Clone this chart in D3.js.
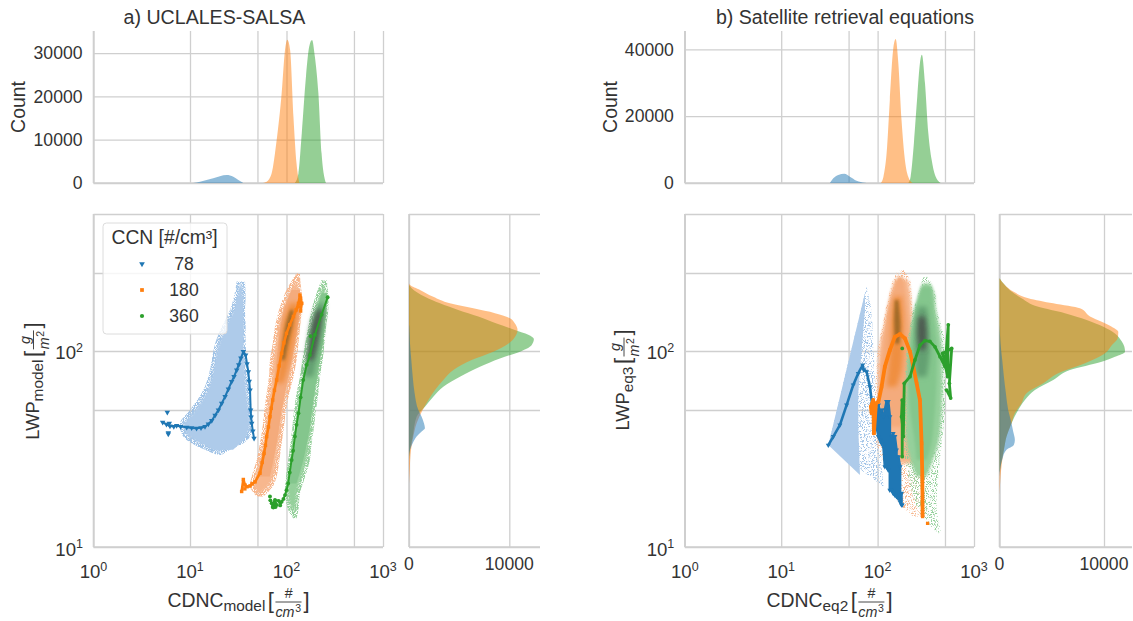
<!DOCTYPE html>
<html><head><meta charset="utf-8">
<script src="https://cdn.jsdelivr.net/npm/d3@7/dist/d3.min.js"></script>
<style>
html,body{margin:0;padding:0;background:#fff}
svg{display:block}
text{font-family:"Liberation Sans",Arial,sans-serif;fill:#333}
</style></head><body>
<svg id="fig" width="1133" height="621"></svg>
<script>
// ---------- tick values and labels ----------
const series = ["78", "180", "360"];
const seriesColors = ["#1f77b4", "#ff7f0e", "#2ca02c"];
const xGrid = [1, 10, 50, 100, 500, 1000];
const xLabelTicks = [1, 10, 100, 1000];
const yGrid = [10, 50, 100, 250, 500];
const yLabelTicks = [10, 100];
const legendTitle = "CCN [#/cm³]";

// ---------- top marginal histograms: [CDNC, count] ----------
const topA78 = [[10.8,0],[12.7,300],[17.4,1080],[24,1850],[28.1,1460],[31.7,690],[35.7,0]];
const topA180 = [[55.3,0],[62.3,300],[70.2,2230],[79.1,9920],[89.1,20700],[96.5,30700],[102,33100],[109,30700],[118,15300],[127,4540],[136,0]];
const topA360 = [[122,0],[133,2230],[144,11460],[159,24500],[172,31500],[184,33000],[197,29100],[214,20700],[231,6840],[257,0]];
const topB78 = [[32,0],[34.7,1400],[39.1,2400],[45.1,2800],[51.6,1900],[60.5,700],[73.9,100],[80,0]];
const topB180 = [[108,0],[115,1900],[124,8900],[134,24900],[145,39900],[154,43100],[164,35900],[177,18900],[192,6900],[208,1900],[231,0]];
const topB360 = [[208,0],[220,1900],[238,11900],[258,25900],[275,35900],[288,38400],[310,29900],[336,14900],[364,6900],[394,2400],[451,0]];

// ---------- right marginal histograms: [LWP, count] ----------
const sideA78 = [[136,0],[133,30],[109,100],[90,230],[74,370],[60.8,560],[50,930],[46.2,1260],[42.8,1490],[40.3,1590],[38.8,1260],[36.6,760],[33.8,370],[31.3,100],[28.9,0]];
const sideA180 = [[221,0],[217,100],[205,1100],[189,2420],[175,4080],[165,6410],[156,8570],[147,10060],[138,10560],[128,10820],[118,10560],[109,9890],[99.2,8400],[90,6240],[80,4420],[71.1,3420],[63.2,2590],[56.2,1930],[50,1360],[42.8,760],[36.6,430],[31.3,200],[24.7,70],[21.1,0]];
const sideA360 = [[217,0],[209,270],[189,1590],[175,3090],[162,4910],[150,6910],[138,8730],[128,10560],[121,11890],[115,12450],[107,12220],[99.2,11060],[91.7,9060],[83.2,7070],[74,5080],[65.8,3420],[58.5,2420],[52,1590],[46.2,760],[36.6,370],[31.3,100],[28,0]];
const sideB78 = [[136,0],[109,100],[90,260],[74,420],[60.8,610],[50,830],[42.8,1150],[38.8,1310],[35.2,1470],[33.1,1370],[31.3,670],[28.3,290],[25.7,100],[22.9,0]];
const sideB180 = [[235,0],[217,510],[201,1310],[186,2750],[175,5140],[165,7700],[150,8660],[141,9780],[133,10740],[125,11370],[116,11310],[107,10740],[97.3,10100],[86.5,8180],[76.9,5620],[68.4,4190],[60.8,2590],[54.1,2110],[48.1,1470],[42.8,1150],[36.6,670],[31.3,420],[26.7,220],[22.9,100],[18.4,0]];
const sideB360 = [[235,0],[217,510],[201,1150],[186,2110],[168,3710],[156,6260],[144,8340],[133,9940],[123,11050],[112,11690],[105,11950],[99.2,12010],[93.5,11050],[88.2,9780],[80,6740],[71.1,5140],[63.2,3390],[56.2,2430],[50,1790],[42.8,1150],[36.6,670],[31.3,420],[26.7,160],[24,0]];

// ---------- scatter clouds as density envelopes: [LWP, CDNC low, CDNC high] ----------
const cloudA78Fringe = [[226,30.5,37.2],[189,28.6,37.7],[162,26,37.2],[133,21.3,37.7],[109,18.2,37.7],[90,16.8,38.7],[74,15.5,40.2],[60.8,13.2,41.9],[50,10,43.6],[42.8,7.88,45.3],[36.6,8.53,41.9],[33.8,10.4,35.7],[31.3,14.3,26],[29.5,18.9,21.3]];
const cloudA78Dense = [[189,30.5,35.7],[162,29.3,35.7],[133,24,36],[109,21.3,35.7],[90,18.9,36],[74,17.4,36],[60.8,15.5,37],[50,12.7,38],[42.8,9.6,39],[36.6,10.8,38],[33.8,13.7,33],[31.3,17.4,28]];
const cloudA180Fringe = [[249,127,138],[221,109,140],[197,96.5,144],[162,83.6,144],[133,76,138],[109,71.9,133],[90,67.4,127],[74,65.9,118],[60.8,62.3,107],[50,58.9,98.8],[41.1,56.6,94.2],[33.8,53.1,89.1],[27.8,49.1,84.3],[22.9,43.6,79.1],[20.3,41.9,71.9],[18.1,49.1,57.5]];
const cloudA180Mid = [[205,113,138],[162,94.2,138],[109,82.3,122],[74,76,104],[50,67.4,89.1],[33.8,59.9,79.1],[22.9,49.1,67.4]];
const cloudA180Dense = [[175,109,133],[138,92.7,127],[109,87.7,118],[83.2,83.6,104],[68.4,79,92.7]];
const cloudA180Core = [[162,109,118],[138,98.8,116],[109,91.2,104],[90,87.7,96.5]];
const cloudA360Fringe = [[230,231,261],[197,205,271],[162,182,271],[133,168,257],[109,156,247],[90,146,237],[74,138,222],[60.8,127,214],[50,120,202],[41.1,115,193],[33.8,110,182],[27.8,104,175],[22.9,98.8,156],[18.8,96.5,138],[15.5,104,133],[14,118,127]];
const cloudA360Mid = [[197,231,265],[133,190,251],[90,166,222],[60.8,144,194],[41.1,127,175],[27.8,115,149],[21.1,104,127]];
const cloudA360Dense = [[175,215,250],[133,178,235],[100,166,215],[74,150,190]];
const cloudA360Core = [[162,205,240],[133,182,226],[109,172,209],[90,162,190]];

// the right-hand blue cloud is a straight-edged wedge: [CDNC, LWP] corners
const wedgeB78Fringe = [[30.8,33.1],[76.9,213],[86.6,162],[90.2,109],[93.8,74],[102,41.1],[115,20.3]];
const wedgeB78Dense = [[30.8,33.1],[73.9,197],[73.9,162],[68.2,101],[63,60.8],[63,41.1],[65.6,23.3]];
const cloudB180Fringe = [[259,164,185],[230,145,217],[189,129,225],[133,112,244],[109,102,264],[74,96.1,275],[50,93.8,286],[33.8,97.6,286],[22.9,134,298],[17.4,157,298],[14.3,235,323]];
const cloudB180Solid = [[230,151,208],[189,134,220],[133,116,231],[109,106,244],[74,102,254],[50,106,264],[33.8,134,264],[26.7,171,264]];
const cloudB180Mid = [[239,161,185],[162,129,203],[109,115,217],[74,106,208],[50,110,185],[41.1,140,177]];
const cloudB180Dense = [[189,148,177],[150,140,185],[109,136,185],[80,129,177],[65.8,124,157]];
const cloudB180Core = [[182,151,164],[138,148,173],[109,152,168]];
const cloudB360Fringe = [[239,298,336],[197,264,394],[162,235,410],[133,217,462],[109,203,500],[74,192,500],[50,185,500],[33.8,185,462],[22.9,208,426],[15.5,264,410],[11.7,426,462]];
const cloudB360Solid = [[221,291,349],[197,271,386],[162,244,402],[133,225,435],[109,212,462],[74,200,470],[50,197,462],[33.8,200,426],[26.7,225,363],[22.9,254,323]];
const cloudB360Mid = [[213,286,363],[162,244,378],[109,220,410],[74,208,410],[50,217,394],[33.8,244,363],[27.8,254,323]];
const cloudB360Dense = [[168,264,323],[133,250,336],[101,244,349],[74,254,323]];
const cloudB360Core = [[150,264,310],[123,258,323],[101,271,310]];

// ---------- binned mean lines: [CDNC, LWP] ----------
const lineA78 = [[5.21,43.3],[5.7,42.2],[6.2,41.4],[6.8,41.2],[7.27,41.6],[8,41.2],[9.24,40.8],[10.4,40.5],[11.7,40.3],[13,40.6],[14.3,41.1],[15.5,42.4],[16.8,44.1],[18.2,47],[19.7,50],[21.3,54],[23.1,58.5],[25,64],[27,69.8],[28.6,74],[30.5,80],[32,85],[33.7,92],[35.7,99.2],[37.7,95.4],[39,86],[40.2,78.4],[41.1,70],[41.9,63.2],[42.5,50],[43,46],[43.6,42.8],[44.8,39],[46.1,35.8]];
const extraA78 = [[5.82,48.7],[5.96,37.7],[6.1,42.8],[5.96,38.2]];
const lineA180 = [[34.3,19.2],[35.7,22.1],[37.2,20.7],[39,20.3],[41.9,20.5],[44,21],[47.2,21.5],[53.1,23.8],[56,27],[58.5,30],[60.5,33],[62.3,36.6],[65,41],[67.4,46.2],[69.5,51],[71.9,56.2],[75,63],[79.1,71.1],[84,84],[89.1,97.3],[94,110],[100,123],[108,136],[118,150],[126,162],[133,175],[138,193],[144,175],[140,160]];
const extraA180 = [[140,186],[134,168],[37,19.8]];
const lineA360 = [[68,17.3],[70.2,16.7],[72,16],[73,15.9],[75,17],[77,16],[79.1,16.4],[76,17.4],[83,17.2],[86,16.3],[89.1,17],[93,17.6],[96.5,18.4],[100,19.5],[104,21.1],[108,24],[113,27.8],[117,31],[122,36.6],[127,42],[133,48.1],[140,58],[149,71.1],[162,85],[175,95.4],[197,121],[231,153],[267,188]];
const extraA360 = [[67.4,18.1],[178,119]];

const lineB78 = [[30.8,33.1],[34.7,36.6],[40.6,41.9],[47.7,53],[55.9,67.1],[63,76.9],[69.9,84.8],[72,80],[76.9,78.4],[83.2,65.8],[88,53],[91.6,46.2],[97.6,50],[97.6,41.1],[102,36.6],[102,53],[106,48.1],[106,35.2],[110,33.8],[110,50],[115,46.2],[115,32.5],[119,25.7],[119,50],[124,55.2],[124,25.7],[129,24.7],[129,55.2],[134,46.2],[134,19.5],[140,19.5],[140,36.6],[145,38],[145,18.8],[151,18.4],[151,36.6],[157,31.3],[157,18.1],[164,17.7],[164,28.9],[171,25.7],[171,17],[177,18.8],[177,16.4],[180,16.4]];
const lineB180 = [[86.6,48.1],[85.3,52],[90.2,56.2],[91.6,38],[96.1,54.1],[102,55],[110,65.8],[119,83.2],[134,101],[151,118],[171,122],[192,116],[217,99.2],[235,83.2],[254,68.4],[275,56.2],[286,33.8],[291,22.9],[293,14.3]];
const extraB180 = [[330,13.2]];
const lineB360 = [[180,28.9],[180,56.2],[177,46.2],[185,36.6],[189,68.4],[217,74],[244,90],[275,107],[310,113],[349,112],[394,105],[444,93.5],[500,83.2],[541,136],[533,74],[473,97.3],[587,103],[555,68.4],[573,57.5],[520,63.2]];
const extraB360 = [[180,103]];

// ---------- layout constants ----------
const svg = d3.select("#fig");
const INK = "#333", GRID = "#cfcfcf";
const TICK = 17.6;
const defs = svg.append("defs");
function speckFilter(id, offset) {
  const f = defs.append("filter").attr("id", id).attr("x", "-5%").attr("y", "-5%").attr("width", "110%").attr("height", "110%");
  f.append("feTurbulence").attr("type", "fractalNoise").attr("baseFrequency", 1.1).attr("numOctaves", 1).attr("seed", 4).attr("result", "n");
  f.append("feColorMatrix").attr("in", "n").attr("type", "matrix").attr("values", `0 0 0 0 0  0 0 0 0 0  0 0 0 0 0  0 0 0 9 ${offset}`).attr("result", "m");
  f.append("feComposite").attr("in", "SourceGraphic").attr("in2", "m").attr("operator", "in");
}
speckFilter("speck", -3.6);
speckFilter("speck2", -4.6);
const inner = defs.append("filter").attr("id", "inner").attr("x", "-5%").attr("y", "-5%").attr("width", "110%").attr("height", "110%");
inner.append("feMorphology").attr("operator", "erode").attr("radius", 2.5).attr("result", "e");
inner.append("feGaussianBlur").attr("in", "e").attr("stdDeviation", 1);
[0.7, 1.5, 2.6].forEach((s, i) => {
  defs.append("filter").attr("id", "blur" + i).attr("x", "-40%").attr("y", "-40%").attr("width", "180%").attr("height", "180%")
    .append("feGaussianBlur").attr("stdDeviation", s);
});

const AREA = {
  a: { x0: 93.5, x1: 383, sideX0: 409, sideX1: 540, sideMax: 13060, topMax: 35100, topTicks: [0, 10000, 20000, 30000], countX: 18 },
  b: { x0: 684.8, x1: 974, sideX0: 999.5, sideX1: 1132, sideMax: 12680, topMax: 45500, topTicks: [0, 20000, 40000], countX: 610 }
};
const YT = 214, YB = 547, TT = 31, TB = 183;

function styleAxis(g) {
  g.select(".domain").remove();
  g.selectAll("line").attr("stroke", GRID).attr("stroke-width", 1.3);
}

function grid(g, x, y, xVals, yVals, w0, w1, h0, h1) {
  const xa = g.append("g").attr("transform", `translate(0,${h1})`)
    .call(d3.axisBottom(x).tickValues(xVals).tickSize(h0 - h1).tickFormat(""));
  styleAxis(xa);
  const ya = g.append("g").attr("transform", `translate(${w0},0)`)
    .call(d3.axisLeft(y).tickValues(yVals).tickSize(w0 - w1).tickFormat(""));
  styleAxis(ya);
  g.append("line").attr("x1", w0).attr("x2", w0).attr("y1", h0).attr("y2", h1).attr("stroke", GRID).attr("stroke-width", 1.6);
  g.append("line").attr("x1", w0).attr("x2", w1).attr("y1", h1).attr("y2", h1).attr("stroke", GRID).attr("stroke-width", 1.6);
}

function powerLabel(g, px, py, anchor, v) {
  const t = g.append("text").attr("x", px).attr("y", py).attr("text-anchor", anchor).attr("font-size", TICK + 1);
  t.append("tspan").text("10");
  t.append("tspan").attr("font-size", 12.5).attr("dy", -7.5).text(String(Math.round(Math.log10(v))));
}

function mathLabel(x, y, rot, main, sub, num, den, sup, mainSize, subSize) {
  const outer = svg.append("g").attr("transform", `translate(${x},${y}) rotate(${rot})`);
  const g = outer.append("g");
  let cx = 0;
  const put = (s, size, dy, style) => g.append("text").attr("x", cx).attr("y", dy).attr("font-size", size).attr("font-style", style || "normal").text(s);
  let t = put(main, mainSize, 0); cx += t.node().getComputedTextLength();
  t = put(sub, subSize, 4); cx += t.node().getComputedTextLength() + 2.5;
  t = put("[", 22, 1); cx += t.node().getComputedTextLength() + 1.5;
  const fs = 14.3;
  const probe = g.append("text").attr("font-size", fs).attr("font-style", "italic").text(den);
  const dw = probe.node().getComputedTextLength(); probe.remove();
  const supW = 7, fw = dw + supW;
  g.append("line").attr("x1", cx).attr("x2", cx + fw).attr("y1", -5).attr("y2", -5).attr("stroke", INK).attr("stroke-width", 0.9);
  g.append("text").attr("x", cx + fw / 2).attr("y", -9).attr("font-size", fs).attr("text-anchor", "middle").attr("font-style", "italic").text(num);
  g.append("text").attr("x", cx).attr("y", 10).attr("font-size", fs).attr("font-style", "italic").text(den);
  g.append("text").attr("x", cx + dw + 0.7).attr("y", 5).attr("font-size", 10.5).text(sup);
  cx += fw + 2;
  t = put("]", 22, 1); cx += t.node().getComputedTextLength();
  g.attr("transform", `translate(${-cx / 2},0)`);
}

function band(g, rows, x, y, fill, opacity, filter) {
  const a = d3.area().x0(d => x(d[1])).x1(d => x(d[2])).y(d => y(d[0])).curve(d3.curveCatmullRom.alpha(0.5));
  const p = g.append("path").attr("d", a(rows)).attr("fill", fill).attr("fill-opacity", opacity);
  if (filter) p.attr("filter", `url(#${filter})`);
}

function wedge(g, corners, x, y, fill, filter) {
  const l = d3.line().x(d => x(d[0])).y(d => y(d[1])).curve(d3.curveLinearClosed);
  const p = g.append("path").attr("d", l(corners)).attr("fill", fill);
  if (filter) p.attr("filter", `url(#${filter})`);
}

function meanLine(g, pts, extra, x, y, color, idx, w, ms) {
  const line = d3.line().x(d => x(d[0])).y(d => y(d[1]));
  g.append("path").attr("d", line(pts)).attr("fill", "none").attr("stroke", color).attr("stroke-width", w).attr("stroke-linejoin", "round");
  const sym = [d3.symbolTriangle, d3.symbolSquare, d3.symbolCircle][idx];
  const gen = d3.symbol().type(sym).size(ms);
  g.selectAll(null).data(pts.concat(extra)).join("path")
    .attr("d", gen).attr("fill", color)
    .attr("transform", d => `translate(${x(d[0])},${y(d[1])})${idx === 0 ? " rotate(180)" : ""}`);
}

function panel(cfg, P) {
  const x = d3.scaleLog().domain([1, 1000]).range([P.x0, P.x1]);
  const y = d3.scaleLog().domain([10, 500]).range([YB, YT]);
  const yTop = d3.scaleLinear().domain([0, P.topMax]).range([TB, TT]);
  const xSide = d3.scaleLinear().domain([0, P.sideMax]).range([P.sideX0, P.sideX1]);

  // --- top marginal
  const gt = svg.append("g");
  grid(gt, x, yTop, xGrid, P.topTicks, P.x0, P.x1, TT, TB);
  const topArea = d3.area().x(d => x(d[0])).y0(TB).y1(d => yTop(d[1])).curve(d3.curveMonotoneX);
  [2, 1, 0].forEach(i => {
    gt.append("path").attr("d", topArea(cfg.top[i])).attr("fill", seriesColors[i]).attr("fill-opacity", 0.5);
  });
  P.topTicks.forEach(v => gt.append("text").attr("x", P.x0 - 11).attr("y", yTop(v) + 6.3)
    .attr("text-anchor", "end").attr("font-size", TICK).text(String(v)));
  svg.append("text").attr("transform", `translate(${P.countX + 7},${107}) rotate(-90)`)
    .attr("text-anchor", "middle").attr("font-size", 19.4).text("Count");

  // --- side marginal
  const gs = svg.append("g");
  grid(gs, xSide, y, [0, 10000], yGrid, P.sideX0, P.sideX1, YT, YB);
  const sideArea = d3.area().y(d => y(d[0])).x0(P.sideX0).x1(d => xSide(d[1])).curve(d3.curveMonotoneY);
  [2, 1, 0].forEach(i => {
    gs.append("path").attr("d", sideArea(cfg.side[i])).attr("fill", seriesColors[i]).attr("fill-opacity", 0.5);
  });
  [0, 10000].forEach(v => gs.append("text").attr("x", xSide(v)).attr("y", 570)
    .attr("text-anchor", "middle").attr("font-size", TICK).text(String(v)));

  // --- joint panel
  const gm = svg.append("g");
  grid(gm, x, y, xGrid, yGrid, P.x0, P.x1, YT, YB);
  cfg.clouds(gm, x, y);
  cfg.lines(gm, x, y);
  xLabelTicks.forEach(v => powerLabel(gm, x(v), 578, "middle", v));
  yLabelTicks.forEach(v => powerLabel(gm, P.x0 - 10.5, y(v) + 8.5, "end", v));
  return { x, y };
}

const BLUE = ["#9fc2e6", "#aecbea"];
const ORANGE = ["#f7b78e", "#f4ab7b", "#ef8a35", "#8f6222"];
const GREEN = ["#95d09b", "#84c68d", "#5d9a6c", "#474747"];

function cloudA(g, x, y, fringe, mid, dense, core, pal, coreBlur) {
  band(g, fringe, x, y, pal[0], 1, "speck");
  band(g, fringe, x, y, pal[0], 1, "inner");
  band(g, mid, x, y, pal[1], 1, "blur0");
  band(g, dense, x, y, pal[2], 0.85, "blur2");
  band(g, core, x, y, pal[3], 0.8, coreBlur);
}
function cloudB(g, x, y, fringe, solid, mid, dense, core, pal, coreBlur) {
  band(g, fringe, x, y, pal[0], 1, "speck2");
  band(g, solid, x, y, pal[0], 1, "blur1");
  band(g, mid, x, y, pal[1], 1, "blur1");
  band(g, dense, x, y, pal[2], 0.85, "blur2");
  band(g, core, x, y, pal[3], 0.8, coreBlur);
}

panel({
  top: [topA78, topA180, topA360],
  side: [sideA78, sideA180, sideA360],
  clouds(g, x, y) {
    band(g, cloudA78Fringe, x, y, BLUE[0], 1, "speck");
    band(g, cloudA78Fringe, x, y, BLUE[1], 1, "inner");
    band(g, cloudA78Dense, x, y, BLUE[1], 1, "blur0");
    cloudA(g, x, y, cloudA180Fringe, cloudA180Mid, cloudA180Dense, cloudA180Core, ORANGE, "blur1");
    cloudA(g, x, y, cloudA360Fringe, cloudA360Mid, cloudA360Dense, cloudA360Core, GREEN, "blur2");
  },
  lines(g, x, y) {
    meanLine(g, lineA78, extraA78, x, y, seriesColors[0], 0, 2, 13);
    meanLine(g, lineA180, extraA180, x, y, seriesColors[1], 1, 2.6, 12);
    meanLine(g, lineA360, extraA360, x, y, seriesColors[2], 2, 2, 12);
  }
}, AREA.a);

panel({
  top: [topB78, topB180, topB360],
  side: [sideB78, sideB180, sideB360],
  clouds(g, x, y) {
    wedge(g, wedgeB78Fringe, x, y, BLUE[0], "speck2");
    wedge(g, wedgeB78Dense, x, y, BLUE[1], null);
    cloudB(g, x, y, cloudB180Fringe, cloudB180Solid, cloudB180Mid, cloudB180Dense, cloudB180Core, ORANGE, "blur1");
    cloudB(g, x, y, cloudB360Fringe, cloudB360Solid, cloudB360Mid, cloudB360Dense, cloudB360Core, GREEN, "blur2");
  },
  lines(g, x, y) {
    meanLine(g, lineB78, [], x, y, seriesColors[0], 0, 2.6, 11);
    meanLine(g, lineB180, extraB180, x, y, seriesColors[1], 1, 3.8, 11);
    meanLine(g, lineB360, extraB360, x, y, seriesColors[2], 2, 2.8, 11);
  }
}, AREA.b);

// --- titles
svg.append("text").attr("x", 214.5).attr("y", 24).attr("text-anchor", "middle").attr("font-size", 19.6).text("a) UCLALES-SALSA");
svg.append("text").attr("x", 845).attr("y", 24).attr("text-anchor", "middle").attr("font-size", 19.6).text("b) Satellite retrieval equations");

// --- axis labels
mathLabel(238.5, 607, 0, "CDNC", "model", "#", "cm", "3", 19.4, 15.4);
mathLabel(829.5, 607, 0, "CDNC", "eq2", "#", "cm", "3", 19.4, 15.4);
mathLabel(38.5, 381, -90, "LWP", "model", "g", "m", "2", 18.3, 15.4);
mathLabel(629, 380, -90, "LWP", "eq3", "g", "m", "2", 18.3, 15.4);

// --- legend
const lg = svg.append("g");
lg.append("rect").attr("x", 103).attr("y", 223).attr("width", 124).attr("height", 111).attr("rx", 3.5)
  .attr("fill", "#fff").attr("fill-opacity", 0.8).attr("stroke", "#dcdcdc").attr("stroke-width", 1);
lg.append("text").attr("x", 164.5).attr("y", 244).attr("text-anchor", "middle").attr("font-size", 19.3).text(legendTitle);
series.forEach((s, i) => {
  const ly = 264 + i * 26;
  const sym = [d3.symbolTriangle, d3.symbolSquare, d3.symbolCircle][i];
  lg.append("path").attr("d", d3.symbol().type(sym).size(14)).attr("fill", seriesColors[i])
    .attr("transform", `translate(142,${ly}) ${i === 0 ? "rotate(180)" : ""}`);
  lg.append("text").attr("x", 184).attr("y", ly + 6.2).attr("text-anchor", "middle").attr("font-size", 17.6).text(s);
});
</script></body></html>
